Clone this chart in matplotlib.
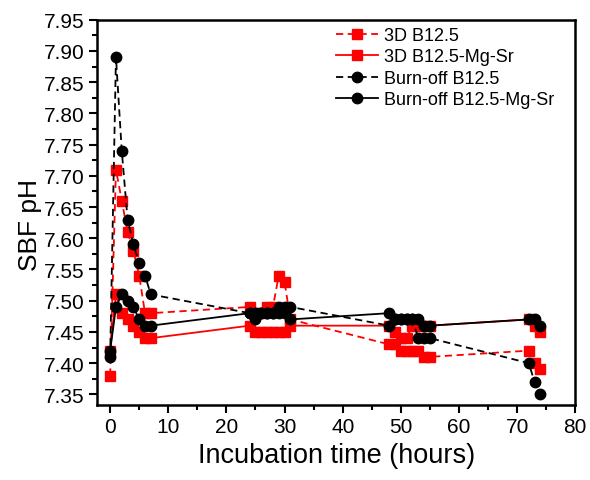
import matplotlib

matplotlib.use("Agg")
import matplotlib.pyplot as plt
from matplotlib.ticker import MultipleLocator

plt.rcParams["font.family"] = ["Liberation Sans", "DejaVu Sans"]

# incubation times (hours)
t_all = [0, 1, 2, 3, 4, 5, 6, 7, 24, 25, 26, 27, 28, 29, 30, 31,
         48, 49, 50, 51, 52, 53, 54, 55, 72, 73, 74]

ph_3d = [7.38, 7.71, 7.66, 7.61, 7.58, 7.54, 7.48, 7.48,
         7.49, 7.48, 7.48, 7.49, 7.49, 7.54, 7.53, 7.47,
         7.43, 7.43, 7.42, 7.42, 7.42, 7.42, 7.41, 7.41,
         7.42, 7.40, 7.39]
ph_3d_mgsr = [7.42, 7.51, 7.48, 7.47, 7.46, 7.45, 7.44, 7.44,
              7.46, 7.45, 7.45, 7.45, 7.45, 7.45, 7.45, 7.46,
              7.46, 7.45, 7.44, 7.44, 7.46, 7.46, 7.46, 7.46,
              7.47, 7.46, 7.45]
ph_burn = [7.41, 7.89, 7.74, 7.63, 7.59, 7.56, 7.54, 7.51,
           7.48, 7.48, 7.48, 7.48, 7.48, 7.49, 7.49, 7.49,
           7.46, 7.47, 7.47, 7.47, 7.47, 7.44, 7.44, 7.44,
           7.40, 7.37, 7.35]
ph_burn_mgsr = [7.42, 7.49, 7.51, 7.50, 7.49, 7.47, 7.46, 7.46,
                7.48, 7.47, 7.48, 7.48, 7.48, 7.48, 7.48, 7.47,
                7.48, 7.47, 7.47, 7.47, 7.47, 7.47, 7.46, 7.46,
                7.47, 7.47, 7.46]

labels = ["3D B12.5", "3D B12.5-Mg-Sr", "Burn-off B12.5", "Burn-off B12.5-Mg-Sr"]

fig = plt.figure(figsize=(5.9, 4.81), dpi=100)
ax = fig.add_axes([0.165, 0.156, 0.81, 0.801])

dash = (0, (4, 2.5))
ax.plot(t_all, ph_3d, marker="s", ls=dash, color="#ff0000", ms=7, lw=1.3, label=labels[0])
ax.plot(t_all, ph_3d_mgsr, marker="s", ls="-", color="#ff0000", ms=7, lw=1.3, label=labels[1])
ax.plot(t_all, ph_burn, marker="o", ls=dash, color="black", ms=7.5, lw=1.3, label=labels[2])
ax.plot(t_all, ph_burn_mgsr, marker="o", ls="-", color="black", ms=7.5, lw=1.3, label=labels[3])

ax.set_xlim(-2.2, 80)
ax.set_ylim(7.333, 7.95)
ax.xaxis.set_major_locator(MultipleLocator(10))
ax.xaxis.set_minor_locator(MultipleLocator(5))
ax.yaxis.set_major_locator(MultipleLocator(0.05))
ax.yaxis.set_minor_locator(MultipleLocator(0.025))
ax.tick_params(which="major", direction="out", length=6, width=1.5, labelsize=15, pad=3)
ax.tick_params(which="minor", direction="out", length=3.5, width=1.5)
for s in ax.spines.values():
    s.set_linewidth(1.8)

ax.set_xlabel("Incubation time (hours)", fontsize=19.5, labelpad=4)
ax.set_ylabel("SBF pH", fontsize=19, labelpad=2)
ax.yaxis.set_label_coords(-0.115, 0.47)

leg = ax.legend(loc="upper left", bbox_to_anchor=(0.5695, 0.942),
                bbox_transform=fig.transFigure, fontsize=13, frameon=False,
                borderaxespad=0.0, borderpad=0.0, handlelength=2.3,
                handletextpad=0.35, labelspacing=0.25)

fig.savefig("out.png", dpi=100)
